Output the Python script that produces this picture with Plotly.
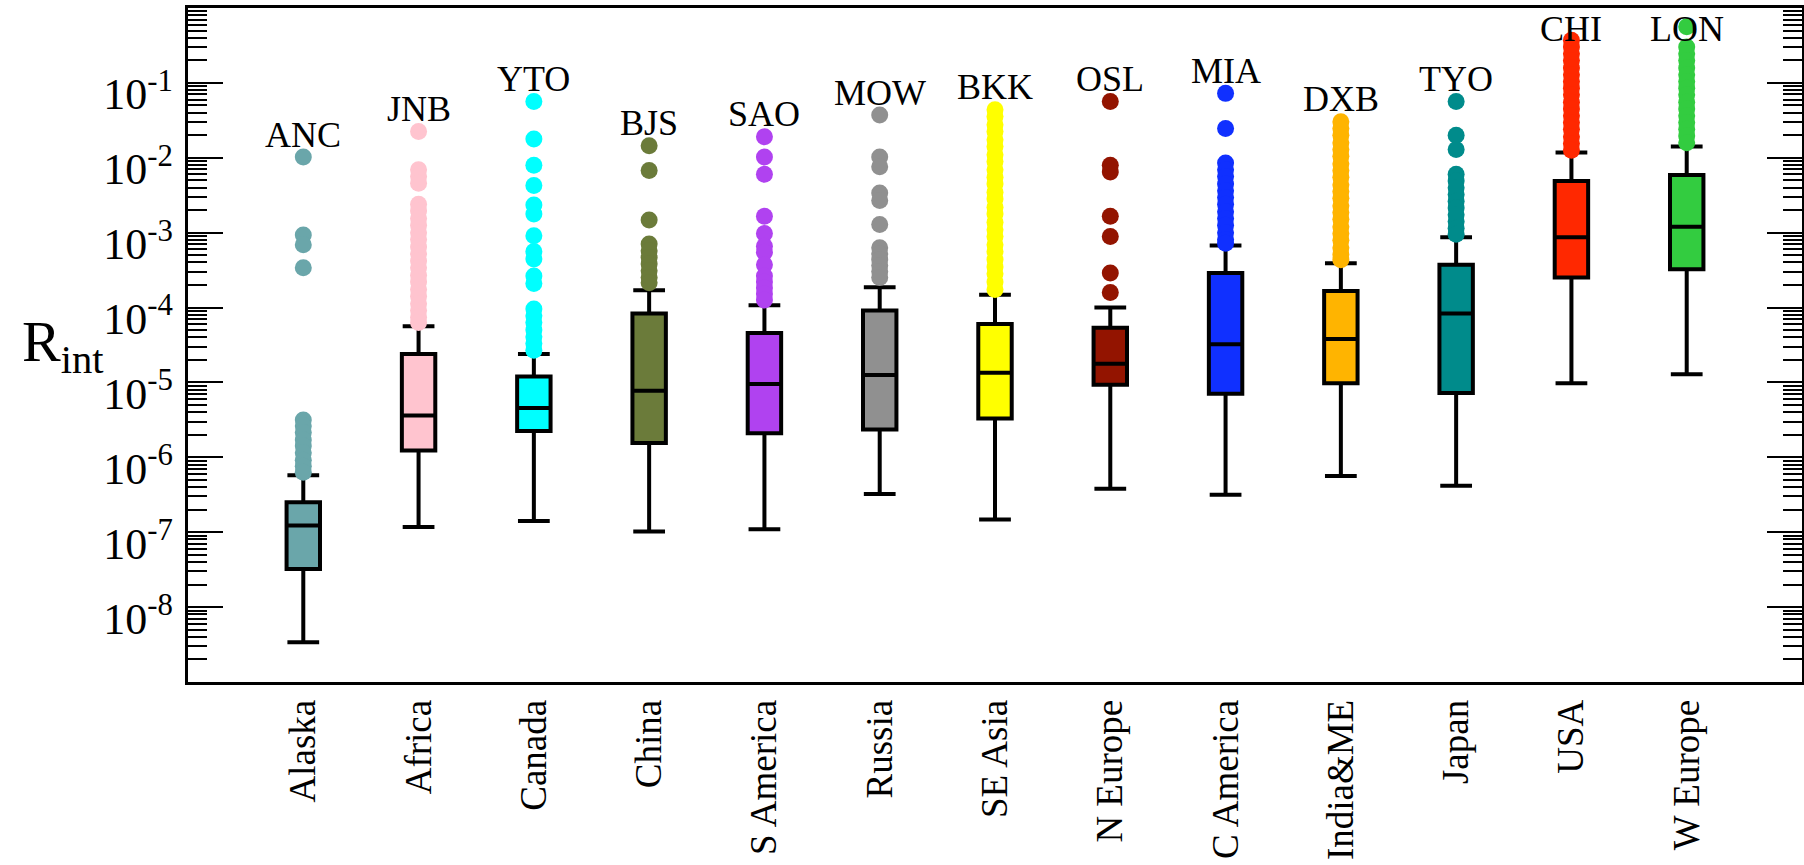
import numpy as np
import plotly.graph_objects as go

# Regions (x axis) and the city code written above each box
regions = ["Alaska", "Africa", "Canada", "China", "S America", "Russia", "SE Asia",
           "N Europe", "C America", "India&ME", "Japan", "USA", "W Europe"]
city_codes = ["ANC", "JNB", "YTO", "BJS", "SAO", "MOW", "BKK",
              "OSL", "MIA", "DXB", "TYO", "CHI", "LON"]
colors = ["#6aa6aa", "#ffc4cf", "#00ffff", "#6b7b3a", "#b042f0", "#909090", "#ffff00",
          "#931400", "#1030ff", "#ffb400", "#008b8b", "#ff2800", "#33cc40"]

# Box statistics, given as log10(R_int)
log_lower = [-8.47, -6.93, -6.85, -6.99, -6.96, -6.49, -6.83, -6.42, -6.50, -6.25, -6.38, -5.01, -4.89]
log_q1 = [-7.49, -5.91, -5.65, -5.81, -5.68, -5.63, -5.48, -5.03, -5.15, -5.01, -5.14, -3.60, -3.49]
log_median = [-6.91, -5.44, -5.34, -5.11, -5.02, -4.90, -4.87, -4.75, -4.49, -4.42, -4.08, -3.06, -2.92]
log_q3 = [-6.60, -4.62, -4.92, -4.08, -4.34, -4.04, -4.22, -4.27, -3.54, -3.78, -3.43, -2.31, -2.23]
log_upper = [-6.24, -4.25, -4.62, -3.77, -3.97, -3.73, -3.83, -4.00, -3.17, -3.41, -3.06, -1.93, -1.85]

# Outliers per region, log10(R_int)
out_alaska = [-1.99, -3.03, -3.16, -3.47, -5.50, -5.58, -5.67, -5.77, -5.85, -5.94, -6.04, -6.12, -6.20]
out_africa = [-1.65, -2.16, -2.25, -2.34, -2.62, -2.71, -2.81, -2.90, -3.00, -3.09, -3.19, -3.28,
              -3.38, -3.47, -3.57, -3.66, -3.76, -3.85, -3.95, -4.04, -4.13, -4.20]
out_canada = [-1.25, -1.75, -2.10, -2.37, -2.63, -2.75, -3.04, -3.25, -3.35, -3.58, -3.68,
              -4.02, -4.11, -4.20, -4.30, -4.39, -4.48, -4.57]
out_china = [-1.84, -2.17, -2.83, -3.15, -3.24, -3.33, -3.42, -3.51, -3.60, -3.67]
out_samerica = [-1.72, -1.99, -2.22, -2.78, -3.01, -3.18, -3.26, -3.43, -3.58, -3.66, -3.74, -3.82, -3.90]
out_russia = [-1.43, -1.99, -2.12, -2.47, -2.57, -2.89, -3.20, -3.28, -3.36, -3.44, -3.52, -3.60]
out_seasia = [-1.36, -1.45, -1.56, -1.65, -1.76, -1.85, -1.96, -2.05, -2.16, -2.26, -2.35, -2.46,
              -2.55, -2.66, -2.75, -2.86, -2.96, -3.05, -3.16, -3.25, -3.36, -3.46, -3.55, -3.66, -3.76]
out_neurope = [-1.25, -2.10, -2.19, -2.78, -3.05, -3.54, -3.80]
out_camerica = [-1.14, -1.61, -2.07, -2.16, -2.25, -2.35, -2.44, -2.53, -2.62, -2.72, -2.81,
                -2.90, -3.00, -3.09, -3.14]
out_india = [-1.52, -1.61, -1.70, -1.80, -1.89, -1.98, -2.08, -2.17, -2.26, -2.36, -2.45, -2.54,
             -2.64, -2.73, -2.82, -2.92, -3.01, -3.10, -3.20, -3.29, -3.36]
out_japan = [-1.25, -1.70, -1.89, -2.22, -2.31, -2.40, -2.49, -2.58, -2.67, -2.76, -2.85, -2.94, -3.02]
out_usa = [-0.43, -0.52, -0.61, -0.70, -0.80, -0.89, -0.98, -1.07, -1.16, -1.26, -1.35, -1.44,
           -1.53, -1.62, -1.72, -1.81, -1.90]
out_weurope = [-0.25, -0.52, -0.61, -0.70, -0.80, -0.89, -0.98, -1.07, -1.16, -1.26, -1.35,
               -1.44, -1.53, -1.62, -1.71, -1.80]

outliers = [out_alaska, out_africa, out_canada, out_china, out_samerica, out_russia, out_seasia,
            out_neurope, out_camerica, out_india, out_japan, out_usa, out_weurope]

# Decade tick labels on the log axis
decade_exps = [-8, -7, -6, -5, -4, -3, -2, -1]
decade_text = ["10<sup>%d</sup>" % e for e in decade_exps]

SERIF = "Liberation Serif"
Y_RANGE = [-9, 0]
# the "10" of each decade label sits a little below its tick
LABEL_DROP = 0.147

fig = go.Figure()

for i, name in enumerate(regions):
    fig.add_trace(go.Box(
        x=[i],
        q1=[10 ** log_q1[i]],
        median=[10 ** log_median[i]],
        q3=[10 ** log_q3[i]],
        lowerfence=[10 ** log_lower[i]],
        upperfence=[10 ** log_upper[i]],
        width=0.29,
        whiskerwidth=0.95,
        fillcolor=colors[i],
        line=dict(color="black", width=4),
        boxpoints=False,
        name=name,
        showlegend=False,
    ))

for i, name in enumerate(regions):
    vals = np.power(10.0, outliers[i])
    fig.add_trace(go.Scatter(
        x=[i] * len(vals),
        y=vals,
        mode="markers",
        marker=dict(size=17, color=colors[i], line=dict(width=0)),
        showlegend=False,
        name=name,
    ))

# carrier for the decade labels axis
fig.add_trace(go.Scatter(x=[None], y=[None], yaxis="y2", showlegend=False, hoverinfo="skip"))

# City code above the highest outlier of each region, kept inside the frame
for i, code in enumerate(city_codes):
    top = max(outliers[i])
    fig.add_annotation(
        x=i, y=min(top + 0.30, -0.28), xref="x", yref="y",
        text=code, showarrow=False, yanchor="middle", xanchor="center",
        font=dict(family=SERIF, size=36, color="black"),
    )

# Axis title, written horizontally beside the tick labels
fig.add_annotation(
    xref="paper", yref="paper", x=-0.104, y=0.5, xanchor="left", yanchor="middle",
    text="R<sub>int</sub>", showarrow=False,
    font=dict(family=SERIF, size=58, color="black"),
)

minor_vals = [k * 10.0 ** e for e in range(-9, 0) for k in range(2, 10)]

fig.update_layout(
    width=1804, height=865,
    margin=dict(l=188, r=2, t=8, b=183, autoexpand=False),
    paper_bgcolor="white", plot_bgcolor="white",
    boxmode="overlay",
    font=dict(family=SERIF, color="black"),
    xaxis=dict(
        range=[-1, 13],
        tickmode="array", tickvals=list(range(len(regions))), ticktext=regions,
        tickangle=-90, ticks="", showgrid=False, zeroline=False,
        showline=True, linecolor="black", linewidth=3, mirror=True,
        tickfont=dict(family=SERIF, size=37, color="black"),
        ticklabelstandoff=0, automargin=False,
    ),
    yaxis=dict(
        type="log", range=Y_RANGE,
        tickmode="array", tickvals=[10.0 ** e for e in decade_exps],
        showticklabels=False,
        ticks="inside", ticklen=35, tickwidth=2, tickcolor="black",
        showgrid=False, zeroline=False,
        showline=True, linecolor="black", linewidth=3, mirror="ticks",
        automargin=False,
        minor=dict(tickmode="array", tickvals=minor_vals, ticks="inside",
                   ticklen=19, tickwidth=1.5, tickcolor="black", showgrid=False),
    ),
    yaxis2=dict(
        type="log", overlaying="y", side="left",
        range=[Y_RANGE[0] + LABEL_DROP, Y_RANGE[1] + LABEL_DROP],
        tickmode="array", tickvals=[10.0 ** e for e in decade_exps], ticktext=decade_text,
        ticks="", showline=False, showgrid=False, zeroline=False,
        tickfont=dict(family=SERIF, size=44, color="black"),
        ticklabelstandoff=14, automargin=False,
    ),
)

fig.write_html("out.html")
